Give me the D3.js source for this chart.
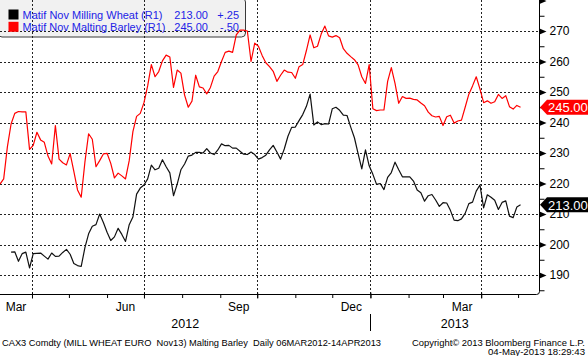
<!DOCTYPE html>
<html><head><meta charset="utf-8">
<script src="https://cdn.jsdelivr.net/npm/d3@7"></script>
<style>html,body{margin:0;padding:0;background:#fff;} svg{display:block;font-family:"Liberation Sans",Arial,sans-serif}</style>
</head><body><svg id="c" width="588" height="356"></svg>
<script>
// ---- data ----
const dates = [
"2012-03-06","2012-03-09","2012-03-12","2012-03-15","2012-03-18","2012-03-21","2012-03-24","2012-03-27","2012-03-30","2012-04-02",
"2012-04-05","2012-04-08","2012-04-11","2012-04-14","2012-04-17","2012-04-20","2012-04-23","2012-04-26","2012-04-29","2012-05-02",
"2012-05-05","2012-05-08","2012-05-11","2012-05-14","2012-05-17","2012-05-20","2012-05-23","2012-05-26","2012-05-29","2012-06-01",
"2012-06-04","2012-06-07","2012-06-10","2012-06-13","2012-06-16","2012-06-19","2012-06-22","2012-06-25","2012-06-28","2012-07-01",
"2012-07-04","2012-07-07","2012-07-10","2012-07-13","2012-07-16","2012-07-19","2012-07-22","2012-07-25","2012-07-28","2012-07-31",
"2012-08-03","2012-08-06","2012-08-09","2012-08-12","2012-08-15","2012-08-18","2012-08-21","2012-08-24","2012-08-27","2012-08-30",
"2012-09-02","2012-09-05","2012-09-08","2012-09-11","2012-09-14","2012-09-17","2012-09-20","2012-09-23","2012-09-26","2012-09-29",
"2012-10-02","2012-10-05","2012-10-08","2012-10-11","2012-10-14","2012-10-17","2012-10-20","2012-10-23","2012-10-26","2012-10-29",
"2012-11-01","2012-11-04","2012-11-07","2012-11-10","2012-11-13","2012-11-16","2012-11-19","2012-11-22","2012-11-25","2012-11-28",
"2012-12-01","2012-12-04","2012-12-07","2012-12-10","2012-12-13","2012-12-16","2012-12-19","2012-12-22","2012-12-25","2012-12-28",
"2012-12-31","2013-01-03","2013-01-06","2013-01-09","2013-01-12","2013-01-15","2013-01-18","2013-01-21","2013-01-24","2013-01-27",
"2013-01-30","2013-02-02","2013-02-05","2013-02-08","2013-02-11","2013-02-14","2013-02-17","2013-02-20","2013-02-23","2013-02-26",
"2013-03-01","2013-03-04","2013-03-07","2013-03-10","2013-03-13","2013-03-16","2013-03-19","2013-03-22","2013-03-25","2013-03-28",
"2013-03-31","2013-04-03","2013-04-06","2013-04-09","2013-04-12","2013-04-15","2013-04-18","2013-04-21","2013-04-24","2013-04-27",
"2013-04-30","2013-05-03"];
const wheat = [
null,null,null,197.5,197.6,194.5,197,197.5,192.3,197,
197.1,197.2,196.2,195.2,197.2,196.1,196.2,197.4,198.4,196.8,
193.8,193.1,192.8,199,203.5,206,206.5,210,207.2,204,
201.3,202.5,205.3,203.3,201,206.5,209,216.5,218.5,219.5,
221.5,226,224.5,225,227.8,225.5,223.5,216,219.8,224.5,
226.4,229,229.3,230.2,230.2,230,231.4,230,229.5,231,
233,232.4,232.5,231.6,231.6,230.6,229.6,229.5,230.3,229.5,
228,228.5,229.3,231,232.5,230.3,228,231.3,235.5,238.4,
238.5,240.6,242.6,245.3,249.3,239.2,240.2,239.3,239.6,239.5,
244.5,245,244,242.4,242.3,238.5,235,229.8,224.8,231,
225.8,223,219.7,220,218,222,223.6,227,224.5,222.2,
222.2,222.2,220.8,217.9,217,214.2,216,216.4,214.6,212.5,
213.7,213.6,211.2,208,207.8,208.4,210.2,213.4,213.9,217.5,
219.5,212,216.3,215.5,214.5,211.5,213.8,214.3,209.3,208.8,
212.3,213];
const barley = [
219.8,221.5,232,239.5,243,243.6,243.5,243.5,231.2,232.5,
236.8,234.3,233.5,229,226.4,239,228,226.8,226.1,229.8,
224,217.9,215.5,227,236.3,234.5,225.5,227.5,229.7,229.9,
226.6,221.8,223.4,222.5,221.5,227.5,237,242,243,246.5,
252,259,255,256.7,260.2,262.1,261.5,251.5,257.2,256.2,
249,245,247,255.5,251.7,251.3,249.4,251.5,255.2,256.7,
260,263,263.4,263,268.7,270.3,270.3,270,260,266,
265,262,259.6,258.3,256.8,253.5,255.5,257.2,256.5,256.4,
254.5,258.3,259,263.6,268.7,264.5,265,269,271.6,268.4,
268,268.5,267.8,264.2,262.7,261.6,260.6,258.9,255,252.8,
259,244.5,243.9,244.1,244.1,253.5,258,252.8,246.3,248.5,
247.9,248,247.6,247.4,246.4,245.5,243.4,242.2,241.8,242,
239,241.9,242.4,239.8,240.5,240.8,245,249.3,252,255,
251,246.5,247.1,246.3,246.8,249.2,247.9,248.8,245.2,244.4,
245.6,245];
const seriesNames = ["Matif Nov Milling Wheat (R1)","Matif Nov Malting Barley (R1)"];
const lastValues = ["213.00","245.00"];
const changes = ["+.25","-.50"];
const yMajorTicks = [190,200,210,220,230,240,250,260,270,280];
const yMinorTicks = [185,195,205,215,225,235,245,255,265,275];
const monthLabels = ["Mar","Jun","Sep","Dec","Mar"];
const monthLabelStarts = ["2012-03-01","2012-06-01","2012-09-01","2012-12-01","2013-03-01"];
const yearLabels = ["2012","2013"];
const footerLeft = "CAX3 Comdty (MILL WHEAT EURO  Nov13) Malting Barley  Daily 06MAR2012-14APR2013";
const footerRight1 = "Copyright\u00A9 2013 Bloomberg Finance L.P.";
const footerRight2 = "04-May-2013 18:29:43";

// ---- scales ----
const parse = d3.utcParse("%Y-%m-%d");
const D = dates.map(parse);
const x = d3.scaleUtc().domain([Date.UTC(2012,2,6), Date.UTC(2013,4,18)]).range([0,539]);
const y = d3.scaleLinear().domain([190,270]).range([275,31]);
const axisX = 539, axisY = 294.5;
const svg = d3.select("#c");

// legend background
svg.append("rect").attr("x",-2).attr("y",-2).attr("width",247.5).attr("height",39)
  .attr("rx",4).attr("fill","#f1f1f1").attr("stroke","#3a3a3a").attr("stroke-width",1);

// grid
const grid = svg.append("g").attr("stroke","#222").attr("stroke-width",1).attr("stroke-dasharray","2,2");
grid.selectAll("line.h").data(yMajorTicks.filter(v=>v<=270)).join("line")
  .attr("x1",0).attr("x2",axisX).attr("y1",d=>Math.round(y(d))+0.5).attr("y2",d=>Math.round(y(d))+0.5);
const quarters = d3.utcMonth.every(3).range(Date.UTC(2012,3,1), Date.UTC(2013,4,2));
grid.selectAll("line.v").data(quarters).join("line")
  .attr("x1",d=>Math.round(x(d))+0.5).attr("x2",d=>Math.round(x(d))+0.5).attr("y1",0).attr("y2",axisY);

// lines
svg.append("clipPath").attr("id","pc").append("rect").attr("x",0).attr("y",0).attr("width",axisX).attr("height",axisY);
const line = d3.line().defined(d=>d[1]!=null).x(d=>x(d[0])).y(d=>y(d[1]));
const gl = svg.append("g").attr("clip-path","url(#pc)").attr("fill","none").attr("stroke-width",1.2).attr("stroke-linejoin","round");
gl.append("path").attr("d",line(D.map((d,i)=>[d,barley[i]]))).attr("stroke","#ff0000");
gl.append("path").attr("d",line(D.map((d,i)=>[d,wheat[i]]))).attr("stroke","#111");

// legend content
const colors = ["#000","#ff0000"];
const lg = svg.append("g");
seriesNames.forEach((n,i)=>{
  const cy = 14.5 + i*12.3;
  lg.append("rect").attr("x",8.5).attr("y",cy-5).attr("width",10).attr("height",10).attr("fill",colors[i]);
  lg.append("text").attr("x",22.5).attr("y",cy+4).attr("fill","#2323e6").attr("font-size",11)
    .attr("textLength",i===0?140:143).attr("lengthAdjust","spacingAndGlyphs").text(n);
  lg.append("text").attr("x",208).attr("y",cy+4).attr("text-anchor","end").attr("fill","#2323e6").attr("font-size",11).text(lastValues[i]);
  lg.append("text").attr("x",239).attr("y",cy+4).attr("text-anchor","end").attr("fill","#2323e6").attr("font-size",11).text(changes[i]);
});

// right axis
const ra = svg.append("g").attr("transform",`translate(${axisX+0.5},0)`);
ra.call(d3.axisRight(y).tickValues(yMinorTicks).tickSize(5).tickFormat(""));
const rMaj = svg.append("g").attr("transform",`translate(${axisX+0.5},0)`)
  .call(d3.axisRight(y).tickValues(yMajorTicks).tickSize(0).tickPadding(10).tickFormat(d=>d>=280?"":d));
rMaj.selectAll(".tick text").attr("font-size",12).attr("fill","#000").attr("font-family","Liberation Sans, Arial, sans-serif");
rMaj.selectAll(".tick").append("path").attr("d","M0,-3L7,0L0,3Z").attr("fill","#000");
svg.selectAll(".domain").remove();
ra.selectAll(".tick line").attr("stroke","#000");

// bottom axis
const months = d3.utcMonth.range(Date.UTC(2012,3,1), Date.UTC(2013,4,2));
svg.append("g").attr("transform",`translate(0,${axisY})`)
  .call(d3.axisBottom(x).tickValues(months).tickSize(3.5).tickFormat(""))
  .call(g=>g.select(".domain").remove());
svg.append("g").attr("transform",`translate(0,${axisY-2})`)
  .call(d3.axisBottom(x).tickValues(quarters).tickSize(6).tickFormat(""))
  .call(g=>g.select(".domain").remove());
// frame lines
svg.append("path").attr("d",`M0,${axisY}H${axisX-2.5}Q${axisX+0.5},${axisY} ${axisX+0.5},${axisY-3}V0`)
  .attr("fill","none").attr("stroke","#000").attr("stroke-width",1);

// month labels centred in the visible part of their month
const [d0,d1] = x.domain();
monthLabels.forEach((m,i)=>{
  const s = parse(monthLabelStarts[i]);
  const a = Math.max(+s,+d0), b = Math.min(+d3.utcMonth.offset(s,1),+d1);
  svg.append("text").attr("x",(x(a)+x(b))/2).attr("y",310.5).attr("text-anchor","middle")
    .attr("font-size",12).attr("fill","#000").text(m);
});
const jan = new Date(Date.UTC(2013,0,1));
[[d0,jan],[jan,d1]].forEach((r,i)=>{
  svg.append("text").attr("x",(x(r[0])+x(r[1]))/2).attr("y",328).attr("text-anchor","middle")
    .attr("font-size",12.5).attr("fill","#000").text(yearLabels[i]);
});
svg.append("line").attr("x1",Math.round(x(jan))+0.5).attr("x2",Math.round(x(jan))+0.5).attr("y1",314).attr("y2",331)
  .attr("stroke","#000");

// price tags
[[213,"#000",lastValues[0]],[245,"#ff0000",lastValues[1]]].forEach(([v,c,t])=>{
  const yc = y(v);
  svg.append("path").attr("d",`M${axisX+1},${yc}L${axisX+8},${yc-7.5}H588V${yc+7.5}H${axisX+8}Z`).attr("fill",c);
  svg.append("text").attr("x",548).attr("y",yc+4.8).attr("fill","#fff").attr("font-size",13).text(t);
});

// footer
svg.append("text").attr("x",2).attr("y",345.5).attr("font-size",9).attr("fill","#000")
  .attr("textLength",379).attr("lengthAdjust","spacingAndGlyphs").attr("xml:space","preserve").style("white-space","pre").text(footerLeft);
svg.append("text").attr("x",585).attr("y",345.5).attr("font-size",9).attr("fill","#000").attr("text-anchor","end")
  .attr("textLength",173).attr("lengthAdjust","spacingAndGlyphs").text(footerRight1);
svg.append("text").attr("x",585).attr("y",355).attr("font-size",9).attr("fill","#000").attr("text-anchor","end")
  .attr("textLength",97).attr("lengthAdjust","spacingAndGlyphs").text(footerRight2);
</script></body></html>
